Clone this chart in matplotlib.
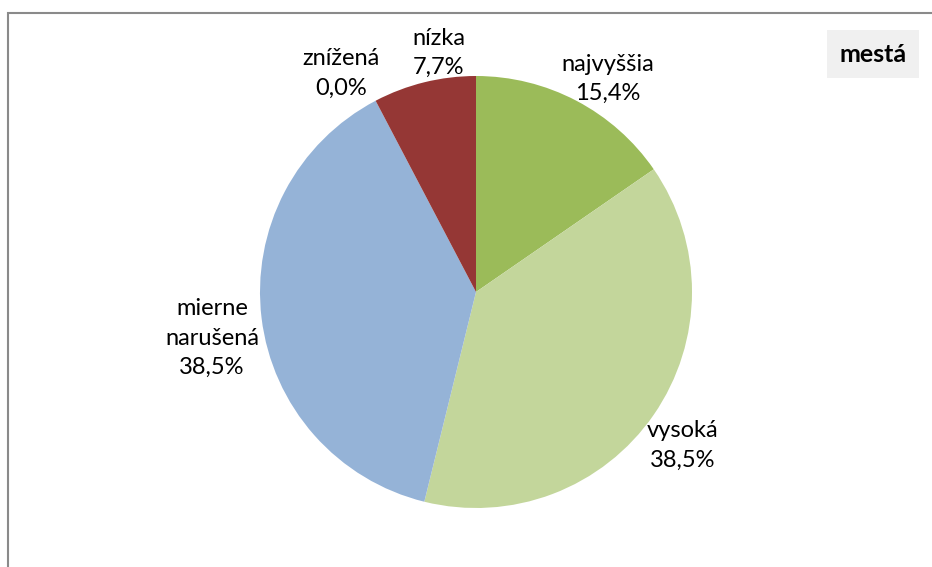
import numpy as np
import matplotlib
matplotlib.use("Agg")
import matplotlib.pyplot as plt
from matplotlib.patches import Rectangle

plt.rcParams["font.family"] = ["Lato", "DejaVu Sans"]

# ── data ──────────────────────────────────────────────────────────────────────
categories = ["najvyššia", "vysoká", "mierne\nnarušená", "znížená", "nízka"]
shares = [15.4, 38.5, 38.5, 0.0, 7.7]
colors = ["#9BBB59", "#C3D69B", "#95B3D7", "#4F81BD", "#953735"]
title = "mestá"

# label placement (radius factor, angle shift in deg) — Excel "best fit" look
label_pos = [(1.16, -4.0), (1.19, -2.0), (1.24, 3.0), (1.19, 4.0), (1.12, -5.0)]

W, H = 932, 567
fig = plt.figure(figsize=(W / 100, H / 100), dpi=100)
ax = fig.add_axes([0, 0, 1, 1])

cx, cy, r = 476, H - 292, 216
wedges, _ = ax.pie(shares, colors=colors, startangle=90, counterclock=False,
                   radius=r, center=(cx, cy), frame=True,
                   wedgeprops=dict(linewidth=0))
ax.set_xlim(0, W)
ax.set_ylim(0, H)
ax.set_aspect("equal")
ax.axis("off")

for w, lab, val, (k, dth) in zip(wedges, categories, shares, label_pos):
    mid = np.deg2rad((w.theta1 + w.theta2) / 2 + dth)
    x = cx + k * r * np.cos(mid)
    y = cy + k * r * np.sin(mid)
    txt = f"{lab}\n{val:.1f}%".replace(".", ",")
    ax.text(x, y, txt, ha="center", va="center", fontsize=17,
            linespacing=1.5, color="black")

# chart frame (only top and left visible in the crop)
fig.patches.append(Rectangle((8 / W, -0.1), 1.2, 1.1 - 13 / H,
                             transform=fig.transFigure, fill=False,
                             edgecolor="#8a8a8a", linewidth=1.5))

ax.text(873, H - 54, title, ha="center", va="center", fontsize=18,
        fontweight="bold",
        bbox=dict(boxstyle="square,pad=0.5", facecolor="#F0F0F0",
                  edgecolor="none"))

fig.savefig("out.png", dpi=100)
